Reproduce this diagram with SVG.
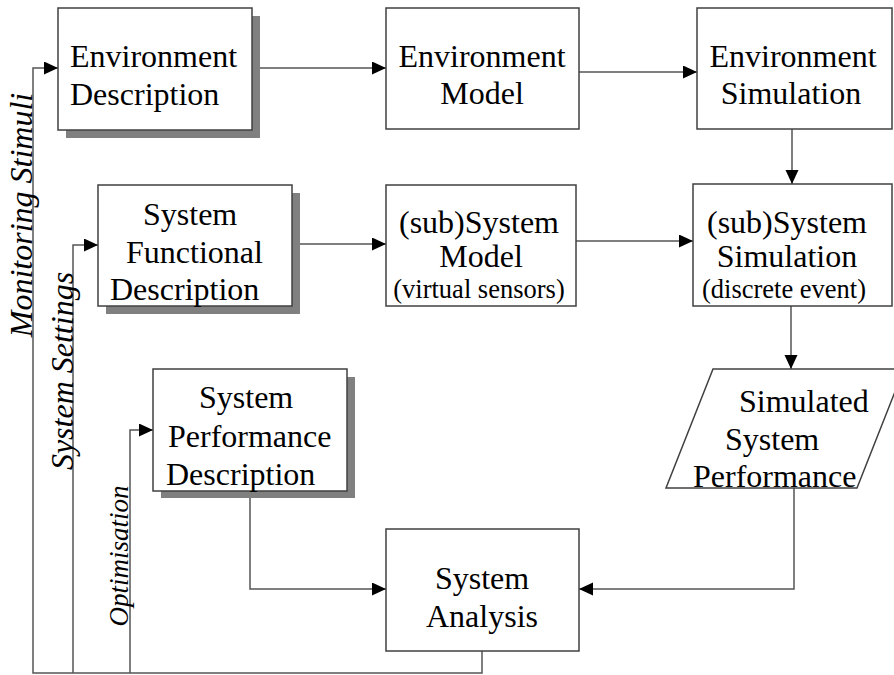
<svg xmlns="http://www.w3.org/2000/svg" width="894" height="675" viewBox="0 0 894 675">
<style>
.box{fill:#fff;stroke:#404040;stroke-width:1.5}
.sh{fill:#808080;stroke:none}
.t{font-family:"Liberation Serif","Times New Roman",serif;font-size:32px;fill:#000}
.s{font-family:"Liberation Serif","Times New Roman",serif;font-size:26.5px;fill:#000}
.it{font-family:"Liberation Serif","Times New Roman",serif;font-size:32px;font-style:italic;fill:#000}
.it2{font-family:"Liberation Serif","Times New Roman",serif;font-size:27px;font-style:italic;fill:#000}
.c{text-anchor:middle}
.ln{fill:none;stroke:#555;stroke-width:1.5}
</style>
<defs>
<marker id="ah" markerUnits="userSpaceOnUse" markerWidth="15" markerHeight="14" refX="14" refY="6.5" orient="auto">
<path d="M0,0 L14,6.5 L0,13 z" fill="#000"/>
</marker>
</defs>
<rect width="894" height="675" fill="#fff"/>
<g id="connectors">
<polyline class="ln" points="252,68 386,68" marker-end="url(#ah)"/>
<polyline class="ln" points="579,72 697,72" marker-end="url(#ah)"/>
<polyline class="ln" points="792,129 792,184" marker-end="url(#ah)"/>
<polyline class="ln" points="292,244 386,244" marker-end="url(#ah)"/>
<polyline class="ln" points="576,241 693,241" marker-end="url(#ah)"/>
<polyline class="ln" points="791,306 791,369" marker-end="url(#ah)"/>
<polyline class="ln" points="250,491 250,589 386,589" marker-end="url(#ah)"/>
<polyline class="ln" points="794,488 794,589 579,589" marker-end="url(#ah)"/>
<polyline class="ln" points="482,651 482,673 33,673 33,68 58,68" marker-end="url(#ah)"/>
<polyline class="ln" points="73,673 73,245 98,245" marker-end="url(#ah)"/>
<polyline class="ln" points="130,673 130,430 153,430" marker-end="url(#ah)"/>
</g>
<g id="labels">
<text class="it c" transform="translate(32,215) rotate(-90)">Monitoring Stimuli</text>
<text class="it c" transform="translate(73,371) rotate(-90)">System Settings</text>
<text class="it2 c" transform="translate(128,556) rotate(-90)">Optimisation</text>
</g>
<g id="env-desc">
<rect class="sh" x="66" y="16" width="194" height="122"/>
<rect class="box" x="58" y="8" width="194" height="122"/>
<text class="t" x="70" y="67">Environment</text>
<text class="t" x="70" y="105">Description</text>
</g>
<g id="env-model">
<rect class="box" x="386" y="8" width="193" height="121"/>
<text class="t c" x="482" y="67">Environment</text>
<text class="t c" x="482" y="104">Model</text>
</g>
<g id="env-sim">
<rect class="box" x="697" y="8" width="195" height="121"/>
<text class="t c" x="793" y="67">Environment</text>
<text class="t c" x="791" y="104">Simulation</text>
</g>
<g id="sys-func">
<rect class="sh" x="106" y="193" width="194" height="121"/>
<rect class="box" x="98" y="185" width="194" height="121"/>
<text class="t" x="143" y="225">System</text>
<text class="t" x="126" y="263">Functional</text>
<text class="t" x="110" y="300">Description</text>
</g>
<g id="sub-model">
<rect class="box" x="386" y="185" width="190" height="121"/>
<text class="t c" x="479" y="233">(sub)System</text>
<text class="t c" x="481" y="267">Model</text>
<text class="s c" x="479" y="298">(virtual sensors)</text>
</g>
<g id="sub-sim">
<rect class="box" x="693" y="184" width="199" height="122"/>
<text class="t c" x="787" y="233">(sub)System</text>
<text class="t c" x="787" y="267">Simulation</text>
<text class="s c" x="784" y="298">(discrete event)</text>
</g>
<g id="sys-perf">
<rect class="sh" x="161" y="377" width="194" height="121"/>
<rect class="box" x="153" y="369" width="194" height="122"/>
<text class="t" x="199" y="408">System</text>
<text class="t" x="168" y="447">Performance</text>
<text class="t" x="166" y="485">Description</text>
</g>
<g id="sim-perf">
<polygon class="box" points="713,369 904,369 857,488 666,488"/>
<text class="t" x="739" y="412">Simulated</text>
<text class="t" x="725" y="450">System</text>
<text class="t" x="693" y="487">Performance</text>
</g>
<g id="sys-analysis">
<rect class="box" x="386" y="529" width="193" height="122"/>
<text class="t c" x="482" y="589">System</text>
<text class="t c" x="482" y="627">Analysis</text>
</g>
</svg>
